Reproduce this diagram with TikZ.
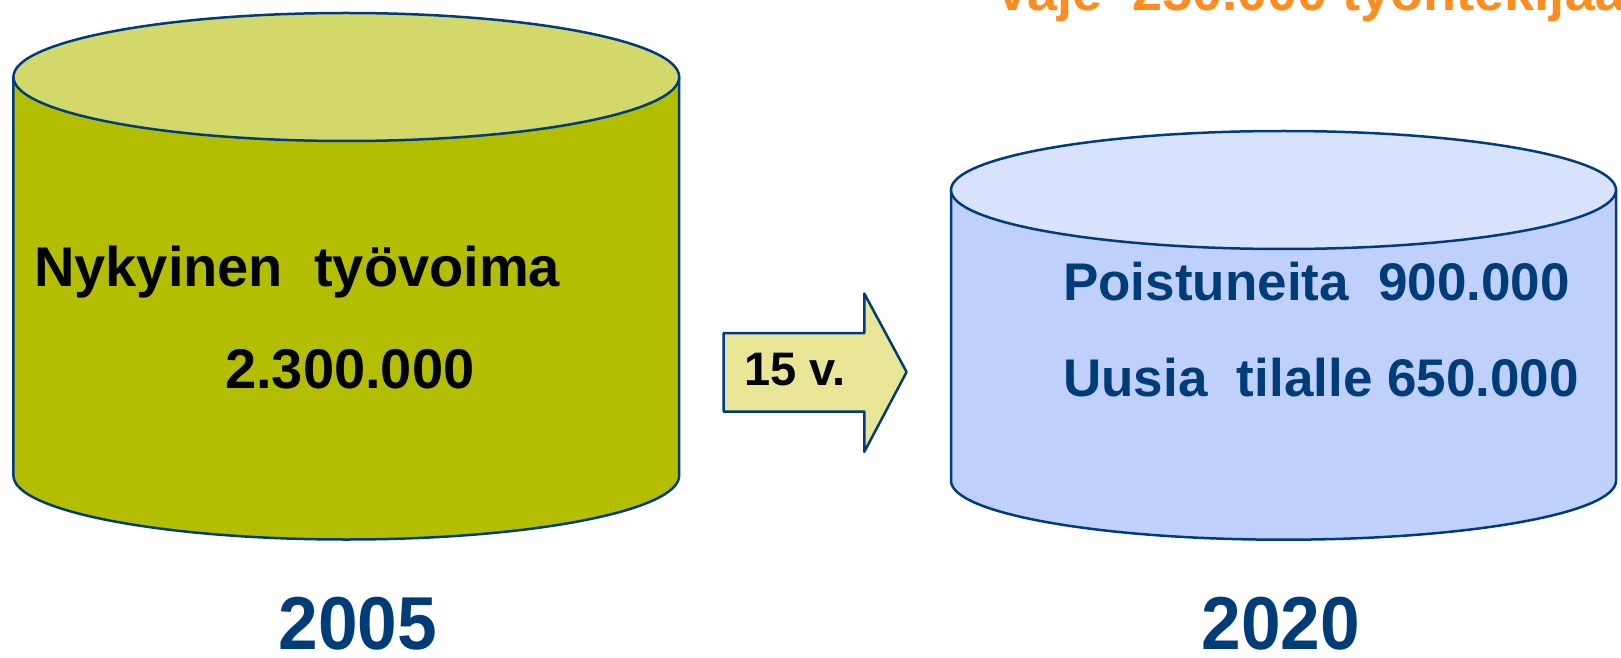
\documentclass[tikz,border=0pt]{standalone}
\usepackage{fontspec}
\setmainfont{Liberation Sans}
\newfontfamily\yearfont[FakeStretch=0.95]{Liberation Sans}
\definecolor{outl}{RGB}{0,60,125}
\definecolor{txtblue}{RGB}{0,60,120}
\definecolor{olivebody}{RGB}{179,190,0}
\definecolor{olivetop}{RGB}{210,216,106}
\definecolor{bluebody}{RGB}{191,208,252}
\definecolor{bluetop}{RGB}{216,226,252}
\definecolor{arrowfill}{RGB}{232,229,150}
\definecolor{orangetxt}{RGB}{255,140,30}
\tikzset{
  outline/.style={draw=outl, line width=2.5pt, line join=round},
  lbl/.style={inner sep=0pt, anchor=base west, font=\bfseries\fontsize{56}{60}\selectfont},
  yearlbl/.style={inner sep=0pt, anchor=base, text=txtblue, font=\yearfont\bfseries\fontsize{75}{80}\selectfont},
}
\begin{document}
\begin{tikzpicture}[x=1pt,y=1pt]
\useasboundingbox (0,0) rectangle (1621,657);
% left cylinder
\path[outline, fill=olivebody] (13.4,580) -- (13.4,181.5) arc[start angle=180, end angle=360, x radius=332.9, y radius=64] -- (679.2,580) -- cycle;
\path[outline, fill=olivetop] (346.3,580) ellipse[x radius=332.9, y radius=64];
% right cylinder
\path[outline, fill=bluebody] (951,467) -- (951,176.3) arc[start angle=180, end angle=360, x radius=332.5, y radius=59] -- (1616,467) -- cycle;
\path[outline, fill=bluetop] (1283.5,467) ellipse[x radius=332.5, y radius=59];
% arrow
\path[outline, fill=arrowfill] (723.7,324) -- (864.3,324) -- (864.3,363.4) -- (906.6,285) -- (864.3,205.2) -- (864.3,245.5) -- (723.7,245.5) -- cycle;
% texts
\node[lbl, text=orangetxt, font=\bfseries\fontsize{54}{60}\selectfont] (vaje) at (994.5,646) {Vaje\ \ 250.000 työntekijää};
\node[lbl] (nyk) at (34,371) {Nykyinen\ \ työvoima};
\node[lbl] (num) at (225,269) {2.300.000};
\node[lbl, font=\bfseries\fontsize{47}{50}\selectfont] (years) at (744,272) {15 v.};
\node[lbl, text=txtblue, font=\bfseries\fontsize{53}{60}\selectfont] (poist) at (1063,357) {Poistuneita\ \ 900.000};
\node[lbl, text=txtblue, font=\bfseries\fontsize{53}{60}\selectfont] (uusia) at (1063,261) {Uusia\ \ tilalle 650.000};
\node[yearlbl] (y1) at (358,7.5) {2005};
\node[yearlbl] (y2) at (1281,7.5) {2020};
\end{tikzpicture}
\end{document}
